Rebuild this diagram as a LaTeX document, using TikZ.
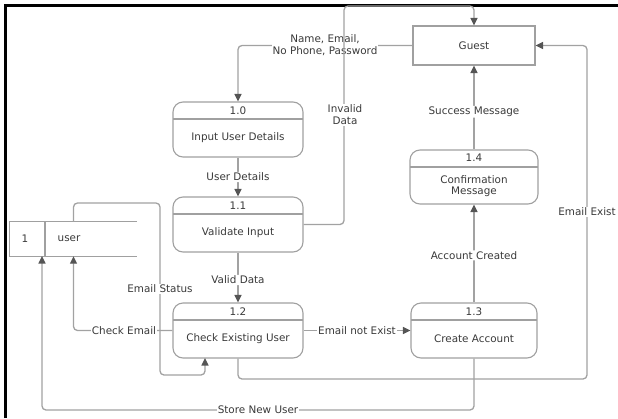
\documentclass[tikz,border=0pt]{standalone}
\usepackage{fontspec}
\setmainfont{DejaVu Sans}
\usetikzlibrary{arrows.meta}
\definecolor{flowline}{HTML}{A2A2A2}
\definecolor{boxline}{HTML}{A0A0A0}
\definecolor{tipcol}{HTML}{555555}
\definecolor{txt}{HTML}{3A3A3A}
\tikzset{
  every node/.style={font=\fontsize{10.4}{12}\selectfont, text=txt},
  proc/.style={draw=boxline, line width=1.1pt, rounded corners=10pt,
    minimum width=#1, minimum height=55pt, inner sep=0pt,
    path picture={\draw[boxline, line width=1.1pt]
      ([yshift=-17pt]path picture bounding box.north west) --
      ([yshift=-17pt]path picture bounding box.north east);}},
  ext/.style={draw=boxline, line width=1.1pt, minimum width=122pt,
    minimum height=39pt, inner sep=0pt},
  flow/.style={draw=flowline, line width=1.3pt, rounded corners=4pt,
    -{Triangle[length=7.5pt,width=7pt,color=tipcol]}},
  plainflow/.style={draw=flowline, line width=1.3pt, rounded corners=4pt},
  lbl/.style={fill=white, inner sep=1pt, align=center},
}
\begin{document}
\begin{tikzpicture}[x=1pt, y=-1pt]
\useasboundingbox (0,0) rectangle (618,418);
% page frame (top and left edges)
\draw[black, line width=3pt] (5,418) -- (5,5) -- (618,5);

% external entity
\node[ext] (guest) at (474,45.5) {Guest};

% processes
\node[proc=130pt] (p10) at (238,129.5) {};
\node[proc=130pt] (p11) at (238,224.5) {};
\node[proc=130pt] (p12) at (238,330.5) {};
\node[proc=128pt, minimum height=54pt] (p14) at (474,177) {};
\node[proc=126pt] (p13) at (474,330.5) {};

\node at ([yshift=-9pt]p10.north) {1.0};
\node at ([yshift=-8.5pt]p10.center) {Input User Details};
\node at ([yshift=-9pt]p11.north) {1.1};
\node at ([yshift=-8.5pt]p11.center) {Validate Input};
\node at ([yshift=-9pt]p12.north) {1.2};
\node at ([yshift=-8.5pt]p12.center) {Check Existing User};
\node at ([yshift=-8.5pt]p14.north) {1.4};
\node[align=center, font=\fontsize{10.4}{11}\selectfont] at ([yshift=-9pt]p14.center) {Confirmation\\Message};
\node at ([yshift=-9pt]p13.north) {1.3};
\node at ([yshift=-8.5pt]p13.center) {Create Account};

% data store
\node[minimum width=127pt, minimum height=34pt, inner sep=0pt] (store) at (73.5,239) {};
\draw[boxline, line width=1.1pt] (store.north east) -- (store.north west)
  -- (store.south west) -- (store.south east);
\draw[boxline, line width=1.1pt] (45,222) -- (45,256);
\node (storeid) at (25,239) {1};
\node (storename) at (69,239) {user};

% data flows
\draw[flow] (guest.west) -| (p10.north);
\node[lbl] at (325,45.5) {Name, Email,\\No Phone, Password};

\draw[flow] (p10.south) -- node[lbl] {User Details} (p11.north);

\draw[flow] (p11.east) -- (344,224.5) -- (344,6) -| (guest.north);
\node[lbl] at (345,115) {Invalid\\Data};

\draw[flow] (p11.south) -- node[lbl, pos=0.55] {Valid Data} (p12.north);

\draw[flow] (store.north) -- (73.5,203) -- (160,203) -- (160,375) -| (205,358);
\node[lbl] at (160,289) {Email Status};

\draw[flow] (p12.west) -| (store.south);
\node[lbl] at (124,330.5) {Check Email};

\draw[flow] (p12.east) -- node[lbl, pos=0.5] {Email not Exist} (p13.west);

\draw[flow] (p13.north) -- node[lbl, pos=0.48] {Account Created} (p14.south);

\draw[flow] (p14.north) -- node[lbl, pos=0.45] {Success Message} (guest.south);

\draw[flow] (p12.south) -- (238,379) -- (587,379) |- (guest.east);
\node[lbl] at (587,212) {Email Exist};

\draw[flow] (p13.south) -- (474,410) -| (42,256);
\node[lbl] at (258,410) {Store New User};
\end{tikzpicture}
\end{document}
